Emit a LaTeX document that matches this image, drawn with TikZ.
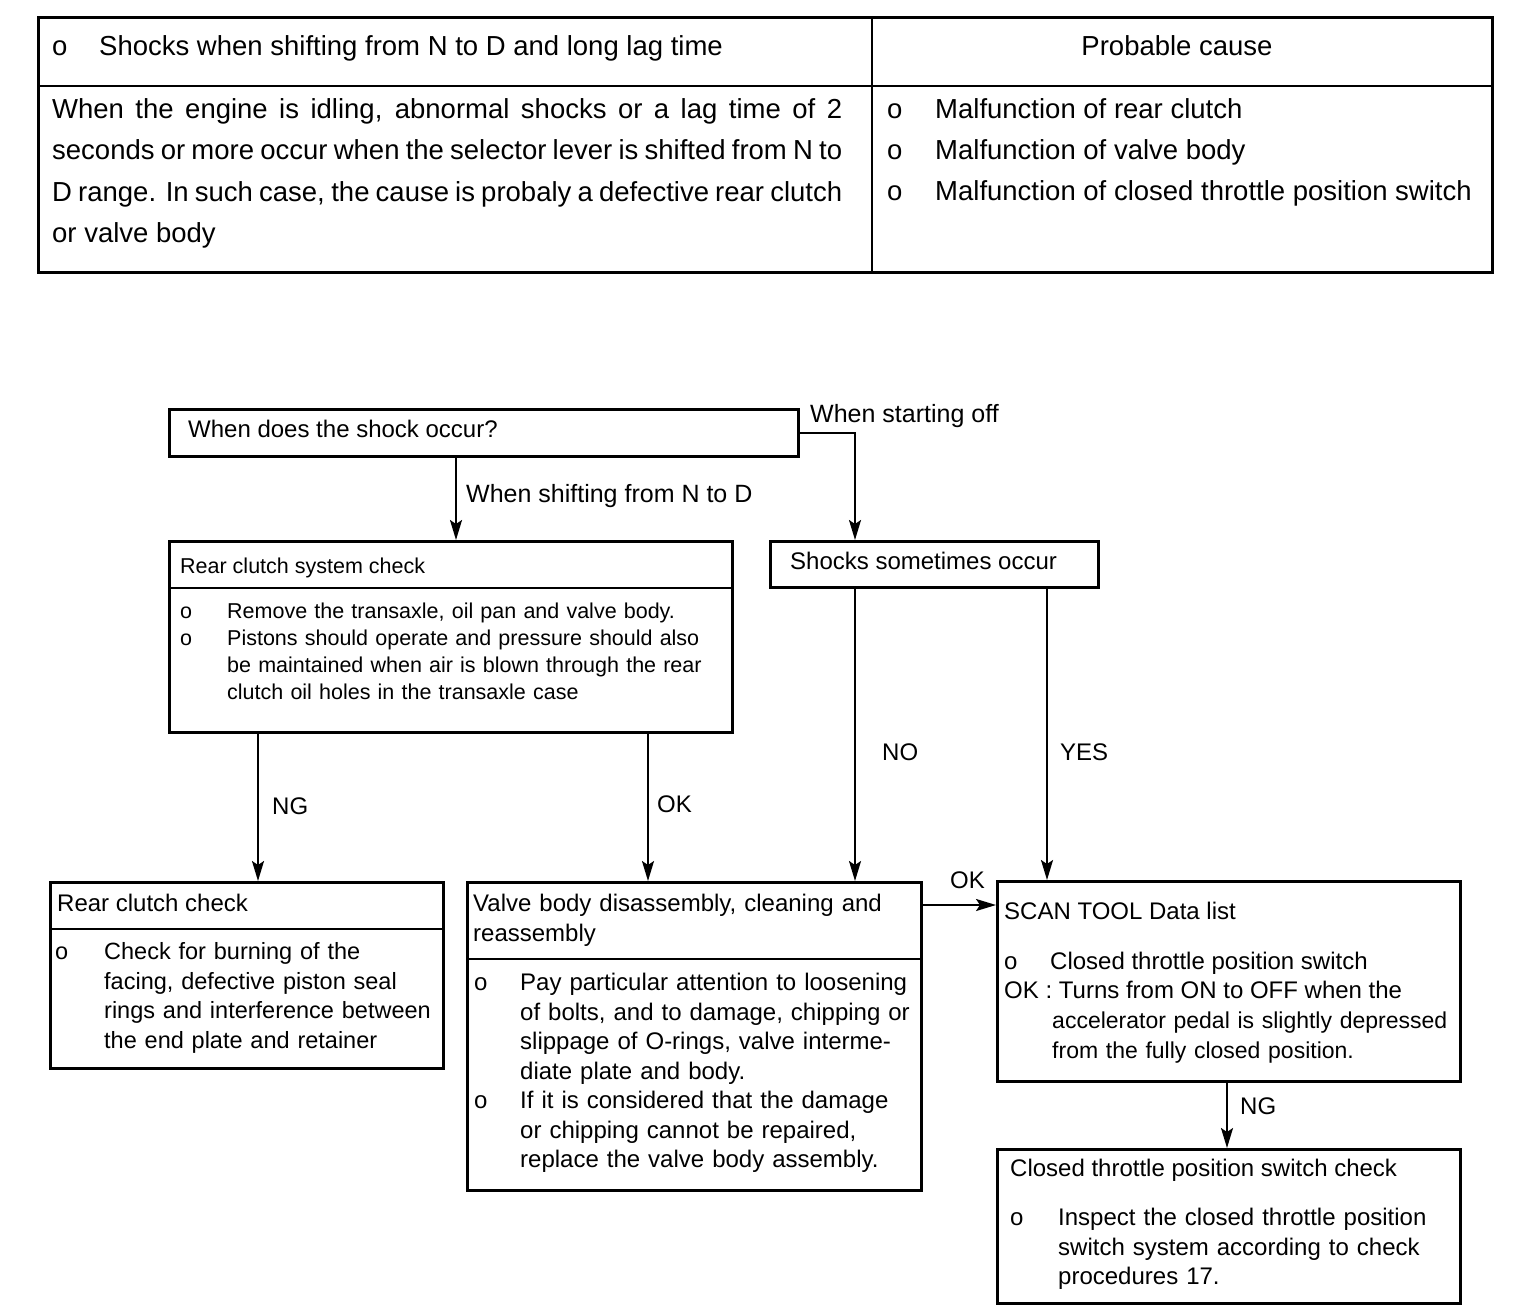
\documentclass[tikz,border=0pt]{standalone}
\usepackage{fontspec}
\setmainfont{Liberation Sans}
\usetikzlibrary{arrows.meta}
\newcommand{\tabfont}{\fontsize{27.5}{41.5}\selectfont}
\newcommand{\flowfont}{\fontsize{24}{29.5}\selectfont}
\newcommand{\notefont}{\fontsize{21.5}{27}\selectfont}
\tikzset{
  box/.style={draw, line width=3pt, anchor=north west, inner sep=0pt},
  split/.style={line width=2.5pt},
  arr/.style={line width=2pt, -{Stealth[length=20pt,width=12pt,inset=4pt]}},
  lbl/.style={anchor=base west, inner sep=0pt, font=\flowfont},
  para/.style={anchor=base west, inner sep=0pt, align=left, font=\flowfont, text width=#1},
}
\begin{document}
\begin{tikzpicture}[x=1pt, y=-1pt]
  \fill[white] (0,0) rectangle (1536,1314);
  \useasboundingbox (0,0) rectangle (1536,1314);
  % Symptom table
  \draw[line width=3pt] (38,18) rectangle (1492,272);
  \draw[split] (38,86) -- (1492,86);
  \draw[split] (872,18) -- (872,272);
  \node[lbl, font=\tabfont] (symptom) at (52,56) {\makebox[47pt][l]{o}Shocks when shifting from N to D and long lag time};
  \node[lbl, font=\tabfont, anchor=base] (cause) at (1177,56) {Probable cause};
  \node[para=790pt, font=\tabfont, align=justify] (desc) at (52,118) {When the engine is idling, abnormal shocks or a lag time of 2\linebreak
    seconds or more occur when the selector lever is shifted from N to\linebreak
    D range. In such case, the cause is probaly a defective rear clutch\linebreak
    or valve body};
  \foreach \n/\y/\t in {1/118/rear clutch, 2/159/valve body, 3/200/closed throttle position switch}
    \node[lbl, font=\tabfont] (cause\n) at (887,\y) {\makebox[48pt][l]{o}Malfunction of \t};

  % First question
  \node[box, minimum width=629pt, minimum height=47pt] (ask) at (168,408) {};
  \node[lbl] (askt) at (188,437.6) {When does the shock occur?};
  \node[lbl, font=\fontsize{25}{29}\selectfont] (start) at (810,422.6) {When starting off};
  \node[lbl, font=\fontsize{25}{29}\selectfont] (shift) at (466,502.6) {When shifting from N to D};

  % Rear clutch system check
  \node[box, minimum width=563pt, minimum height=191pt] (rsc) at (168,540) {};
  \draw[split] ([yshift=-48pt]rsc.north west) -- ([yshift=-48pt]rsc.north east);
  \node[lbl, font=\notefont] (rsct) at (180,573) {Rear clutch system check};
  \node[para=600pt, font=\notefont] (rscb) at (180,618) {\makebox[47pt][l]{o}Remove the transaxle, oil pan and valve body.\\
    \makebox[47pt][l]{o}Pistons should operate and pressure should also\\
    \hspace*{47pt}be maintained when air is blown through the rear\\
    \hspace*{47pt}clutch oil holes in the transaxle case};

  % Shocks sometimes occur
  \node[box, minimum width=328pt, minimum height=46pt] (some) at (769,540) {};
  \node[lbl] (somet) at (790,569.6) {Shocks sometimes occur};

  % Rear clutch check
  \node[box, minimum width=393pt, minimum height=186pt] (rc) at (49,881) {};
  \draw[split] ([yshift=-48pt]rc.north west) -- ([yshift=-48pt]rc.north east);
  \node[lbl] (rct) at (57,911.6) {Rear clutch check};
  \node[para=500pt, font=\fontsize{23.5}{29.5}\selectfont] (rcb) at (55,959.6) {\makebox[49pt][l]{o}Check for burning of the\\
    \hspace*{49pt}facing, defective piston seal\\
    \hspace*{49pt}rings and interference between\\
    \hspace*{49pt}the end plate and retainer};

  % Valve body
  \node[box, minimum width=454pt, minimum height=308pt] (vb) at (466,881) {};
  \draw[split] ([yshift=-78pt]vb.north west) -- ([yshift=-78pt]vb.north east);
  \node[para=500pt] (vbt) at (473,911.6) {Valve body disassembly, cleaning and\\reassembly};
  \node[para=500pt] (vbb) at (474,990.6) {\makebox[46pt][l]{o}Pay particular attention to loosening\\
    \hspace*{46pt}of bolts, and to damage, chipping or\\
    \hspace*{46pt}slippage of O-rings, valve interme-\\
    \hspace*{46pt}diate plate and body.\\
    \makebox[46pt][l]{o}If it is considered that the damage\\
    \hspace*{46pt}or chipping cannot be repaired,\\
    \hspace*{46pt}replace the valve body assembly.};

  % SCAN TOOL data list
  \node[box, minimum width=463pt, minimum height=200pt] (scan) at (996,880) {};
  \node[lbl] (scant) at (1004,919.6) {SCAN TOOL Data list};
  \node[lbl] (scano) at (1004,969.6) {o};
  \node[lbl] (scanb) at (1050,969.6) {Closed throttle position switch};
  \node[lbl] (scanok) at (1004,998.6) {OK : Turns from ON to OFF when the};
  \node[para=500pt, font=\fontsize{23}{29.5}\selectfont] (scanr) at (1052,1028.6) {accelerator pedal is slightly depressed\\from the fully closed position.};

  % Closed throttle position switch check
  \node[box, minimum width=463pt, minimum height=154pt] (ct) at (996,1148) {};
  \node[lbl] (ctt) at (1010,1176.6) {Closed throttle position switch check};
  \node[para=500pt] (ctb) at (1010,1225.6) {\makebox[48pt][l]{o}Inspect the closed throttle position\\
    \hspace*{48pt}switch system according to check\\
    \hspace*{48pt}procedures 17.};

  % Connectors
  \draw[arr] ([xshift=288pt]ask.south west) -- ([xshift=288pt]rsc.north west);
  \draw[arr] (ask.east) -| ([xshift=86pt]some.north west);
  \draw[arr] ([xshift=90pt]rsc.south west) -- ([xshift=209pt]rc.north west);
  \draw[arr] ([xshift=480pt]rsc.south west) -- ([xshift=182pt]vb.north west);
  \draw[arr] ([xshift=86pt]some.south west) -- ([xshift=389pt]vb.north west);
  \draw[arr] ([xshift=278pt]some.south west) -- ([xshift=51pt]scan.north west);
  \draw[arr] ([yshift=-24pt]vb.north east) -- ([yshift=-24pt]vb.north east -| scan.west);
  \draw[arr] ([xshift=231pt]scan.south west) -- ([xshift=231pt]ct.north west);
  \node[lbl] (ng1) at (272,814.6) {NG};
  \node[lbl] (ok1) at (657,812.6) {OK};
  \node[lbl] (no) at (882,760.6) {NO};
  \node[lbl] (yes) at (1060,760.6) {YES};
  \node[lbl] (ok2) at (950,888.6) {OK};
  \node[lbl] (ng2) at (1240,1114.6) {NG};
\end{tikzpicture}
\end{document}
